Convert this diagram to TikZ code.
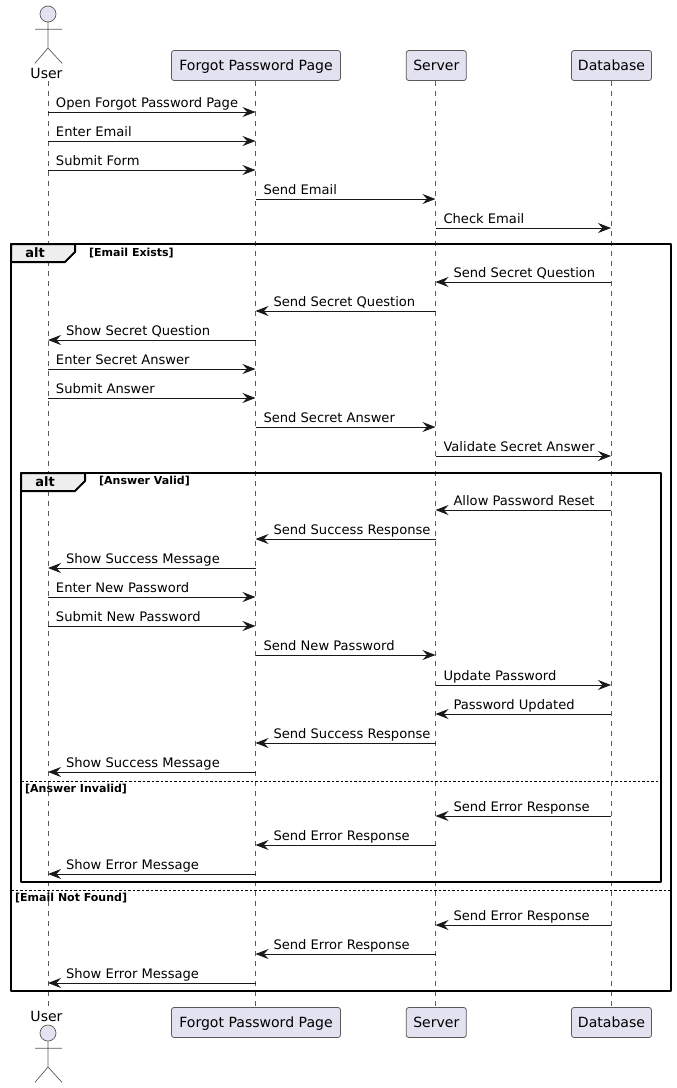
\documentclass[tikz,border=0pt]{standalone}
\usepackage{fontspec}
\setmainfont{DejaVu Sans}
\usetikzlibrary{arrows.meta}
\definecolor{partfill}{HTML}{E2E2F0}
\definecolor{partline}{HTML}{5A5A5A}
\definecolor{tabfill}{HTML}{EEEEEE}
\tikzset{
  partbox/.style={draw=partline,fill=partfill,line width=0.8pt,rounded corners=2.5pt,inner sep=0pt,
    text height=19.5pt,text depth=10.5pt,font=\fontsize{14.05}{14}\selectfont},
  actorname/.style={inner sep=0pt,anchor=base,font=\fontsize{14.05}{14}\selectfont},
  lifeline/.style={draw=partline,line width=0.6pt,dash pattern=on 5pt off 5pt},
  actorline/.style={draw=partline,line width=0.7pt},
  msg/.style={draw=black!90,line width=0.9pt,-{Stealth[length=13pt,width=10pt,inset=4.5pt]}},
  msgtext/.style={inner sep=0pt,anchor=base west,font=\fontsize{13.1}{13}\selectfont},
  frameline/.style={draw=black,line width=2pt},
  tabline/.style={frameline,fill=tabfill},
  sepline/.style={draw=black,line width=0.8pt,dash pattern=on 2.5pt off 2pt},
  alttext/.style={inner sep=0pt,anchor=base,font=\bfseries\fontsize{13}{13}\selectfont},
  guardtext/.style={inner sep=0pt,anchor=base west,font=\bfseries\fontsize{11}{11}\selectfont},
}
\begin{document}
\begin{tikzpicture}[x=1pt,y=-1pt,line join=round]
  \useasboundingbox (0,0) rectangle (677,1088);
  % lifelines
  \foreach \who/\xx in {user/48,page/255.5,server/435.5,db/611}{
    \coordinate (\who) at (\xx,81);
    \coordinate (\who end) at (\xx,1007);
    \draw[lifeline] (\who) -- (\who end);
  }
  % participants
  \foreach \who/\xx/\yy/\bw/\txt in {page/256/65.5/169/Forgot Password Page,server/436.3/65.5/60/Server,db/611.5/65.5/80/Database}{
    \node[partbox,minimum width=\bw pt] (\who top) at (\xx,\yy) {\txt};
    \node[partbox,minimum width=\bw pt] (\who bot) at (\xx,\yy+957) {\txt};
  }
  % actor
  \node[actorname] (user top) at (46.5,78) {User};
  \node[actorname] (user bot) at (46.5,1021) {User};
  \foreach \yy in {14,1033}{
    \draw[actorline,fill=partfill] (48,\yy) circle (8);
    \draw[actorline] (48,\yy+8) -- (48,\yy+34) (35,\yy+15.3) -- (62,\yy+15.3)
      (35,\yy+49.3) -- (48,\yy+34) -- (62,\yy+49.3);
  }
  % frames
  \draw[frameline] (11,244) rectangle (671,991);
  \draw[tabline] (11,244) -- (75,244) -- (75,252) -- (65,262) -- (11,262) -- cycle;
  \node[alttext] (alt outer) at (35,257) {alt};
  \node[guardtext] (guard exists) at (89,256) {[Email Exists]};
  \draw[frameline] (21,473) rectangle (661,882);
  \draw[tabline] (21,473) -- (85,473) -- (85,481) -- (75,491) -- (21,491) -- cycle;
  \node[alttext] (alt inner) at (45,486) {alt};
  \node[guardtext] (guard valid) at (99,484) {[Answer Valid]};
  \draw[sepline] (21,781) -- (661,781);
  \node[guardtext] (guard invalid) at (25,792) {[Answer Invalid]};
  \draw[sepline] (11,890) -- (671,890);
  \node[guardtext] (guard notfound) at (15,901) {[Email Not Found]};
  % messages going right
  \foreach \from/\dest/\yy/\txt [count=\i] in {
    user/page/112/Open Forgot Password Page,
    user/page/141/Enter Email,
    user/page/170/Submit Form,
    page/server/199/Send Email,
    server/db/228/Check Email,
    user/page/369/Enter Secret Answer,
    user/page/398/Submit Answer,
    page/server/427/Send Secret Answer,
    server/db/456/Validate Secret Answer,
    user/page/597/Enter New Password,
    user/page/626/Submit New Password,
    page/server/655/Send New Password,
    server/db/685/Update Password}{
    \coordinate (ra\i) at (\from |- 0,\yy);
    \coordinate (rb\i) at (\dest |- 0,\yy);
    \draw[msg] (ra\i) -- (rb\i);
    \node[msgtext] (rt\i) at ([shift={(7.8,-4.2)}]ra\i) {\txt};
  }
  % messages going left
  \foreach \from/\dest/\yy/\txt [count=\i] in {
    db/server/282/Send Secret Question,
    server/page/311/Send Secret Question,
    page/user/340/Show Secret Question,
    db/server/510/Allow Password Reset,
    server/page/539/Send Success Response,
    page/user/568/Show Success Message,
    db/server/714/Password Updated,
    server/page/743/Send Success Response,
    page/user/772/Show Success Message,
    db/server/816/Send Error Response,
    server/page/845/Send Error Response,
    page/user/874/Show Error Message,
    db/server/925/Send Error Response,
    server/page/954/Send Error Response,
    page/user/983/Show Error Message}{
    \coordinate (la\i) at (\from |- 0,\yy);
    \coordinate (lb\i) at (\dest |- 0,\yy);
    \draw[msg] (la\i) -- (lb\i);
    \node[msgtext] (lt\i) at ([shift={(17.8,-4.2)}]lb\i) {\txt};
  }
\end{tikzpicture}
\end{document}
